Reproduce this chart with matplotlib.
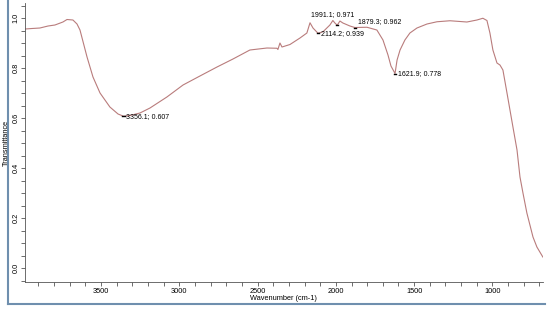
import matplotlib
matplotlib.use("Agg")
import matplotlib.pyplot as plt
from matplotlib.lines import Line2D
from matplotlib.ticker import MultipleLocator, FormatStrFormatter

matplotlib.rc('font', family='Liberation Sans', size=5.3)

# FTIR spectrum
wavenumber = [3985, 3941, 3890, 3838, 3794, 3743, 3717, 3679, 3653, 3634,
              3609, 3589, 3551, 3506, 3443, 3391, 3356, 3315, 3251, 3187,
              3079, 2976, 2868, 2759, 2657, 2549, 2440, 2376, 2370, 2357,
              2344, 2293, 2229, 2185, 2165, 2146, 2114, 2082, 2038, 2019,
              2006, 1991, 1974, 1955, 1910, 1879, 1801, 1738, 1699, 1667,
              1648, 1622, 1609, 1590, 1559, 1527, 1482, 1418, 1354, 1271,
              1163, 1099, 1061, 1035, 1016, 997, 971, 952, 933, 907,
              869, 843, 824, 805, 780, 741, 716, 697, 678]
transmittance = [0.956, 0.958, 0.960, 0.968, 0.972, 0.984, 0.994, 0.992, 0.976, 0.952,
                 0.892, 0.844, 0.764, 0.700, 0.644, 0.616, 0.607, 0.610, 0.620, 0.640,
                 0.684, 0.732, 0.768, 0.804, 0.836, 0.872, 0.880, 0.879, 0.874, 0.900,
                 0.884, 0.894, 0.920, 0.940, 0.981, 0.960, 0.939, 0.945, 0.972, 0.990,
                 0.980, 0.971, 0.988, 0.980, 0.968, 0.962, 0.963, 0.952, 0.912, 0.852,
                 0.808, 0.778, 0.832, 0.872, 0.912, 0.940, 0.960, 0.976, 0.985, 0.989,
                 0.984, 0.992, 0.999, 0.990, 0.940, 0.872, 0.820, 0.812, 0.792, 0.700,
                 0.564, 0.472, 0.364, 0.300, 0.220, 0.124, 0.084, 0.064, 0.044]

# labelled peaks
peak_wn = [3356.1, 2114.2, 1991.1, 1879.3, 1621.9]
peak_t = [0.607, 0.939, 0.971, 0.962, 0.778]

fig = plt.figure(figsize=(5.5, 3.1), dpi=100)
ax = fig.add_axes([0.0455, 0.0903, 0.9415, 0.90])

ax.plot(wavenumber, transmittance, color='#b97c7c', linewidth=0.8)

for w, t in zip(peak_wn, peak_t):
    ax.plot([w + 7, w - 7], [t, t], color='black', linewidth=1.0)
    label = "%.1f; %.3f" % (w, t)
    if w == 1991.1:
        ax.annotate(label, (w, t), xytext=(-3, 5), textcoords='offset points',
                    ha='center', va='bottom', fontsize=5)
    elif w == 1879.3:
        ax.annotate(label, (w, t), xytext=(2, 1.5), textcoords='offset points',
                    ha='left', va='bottom', fontsize=5)
    else:
        ax.annotate(label, (w, t), xytext=(2, 0), textcoords='offset points',
                    ha='left', va='center', fontsize=5)

ax.set_xlim(3985, 678)
ax.set_ylim(-0.056, 1.06)
ax.xaxis.set_major_locator(MultipleLocator(500))
ax.xaxis.set_minor_locator(MultipleLocator(100))
ax.yaxis.set_major_locator(MultipleLocator(0.2))
ax.yaxis.set_minor_locator(MultipleLocator(0.05))
ax.yaxis.set_major_formatter(FormatStrFormatter('%.1f'))
ax.tick_params(which='both', direction='out', length=3, width=0.6, color='#555555', pad=1)
for lab in ax.get_yticklabels():
    lab.set_rotation(90)
    lab.set_va('center')

ax.spines['top'].set_visible(False)
ax.spines['right'].set_visible(False)
for side in ['left', 'bottom']:
    ax.spines[side].set_color('#555555')
    ax.spines[side].set_linewidth(0.6)

ax.set_xlabel("Wavenumber (cm-1)", labelpad=0)
ax.set_ylabel("Transmittance")
ax.yaxis.set_label_coords(-0.029, 0.5)

# window frame lines
fig.add_artist(Line2D([8 / 550, 8 / 550], [1 - 304 / 310, 1.0], color='#6f8fae', linewidth=1.5))
fig.add_artist(Line2D([8 / 550, 545 / 550], [1 - 304 / 310, 1 - 304 / 310], color='#6f8fae', linewidth=1.5))

fig.savefig("out.png", dpi=100)
